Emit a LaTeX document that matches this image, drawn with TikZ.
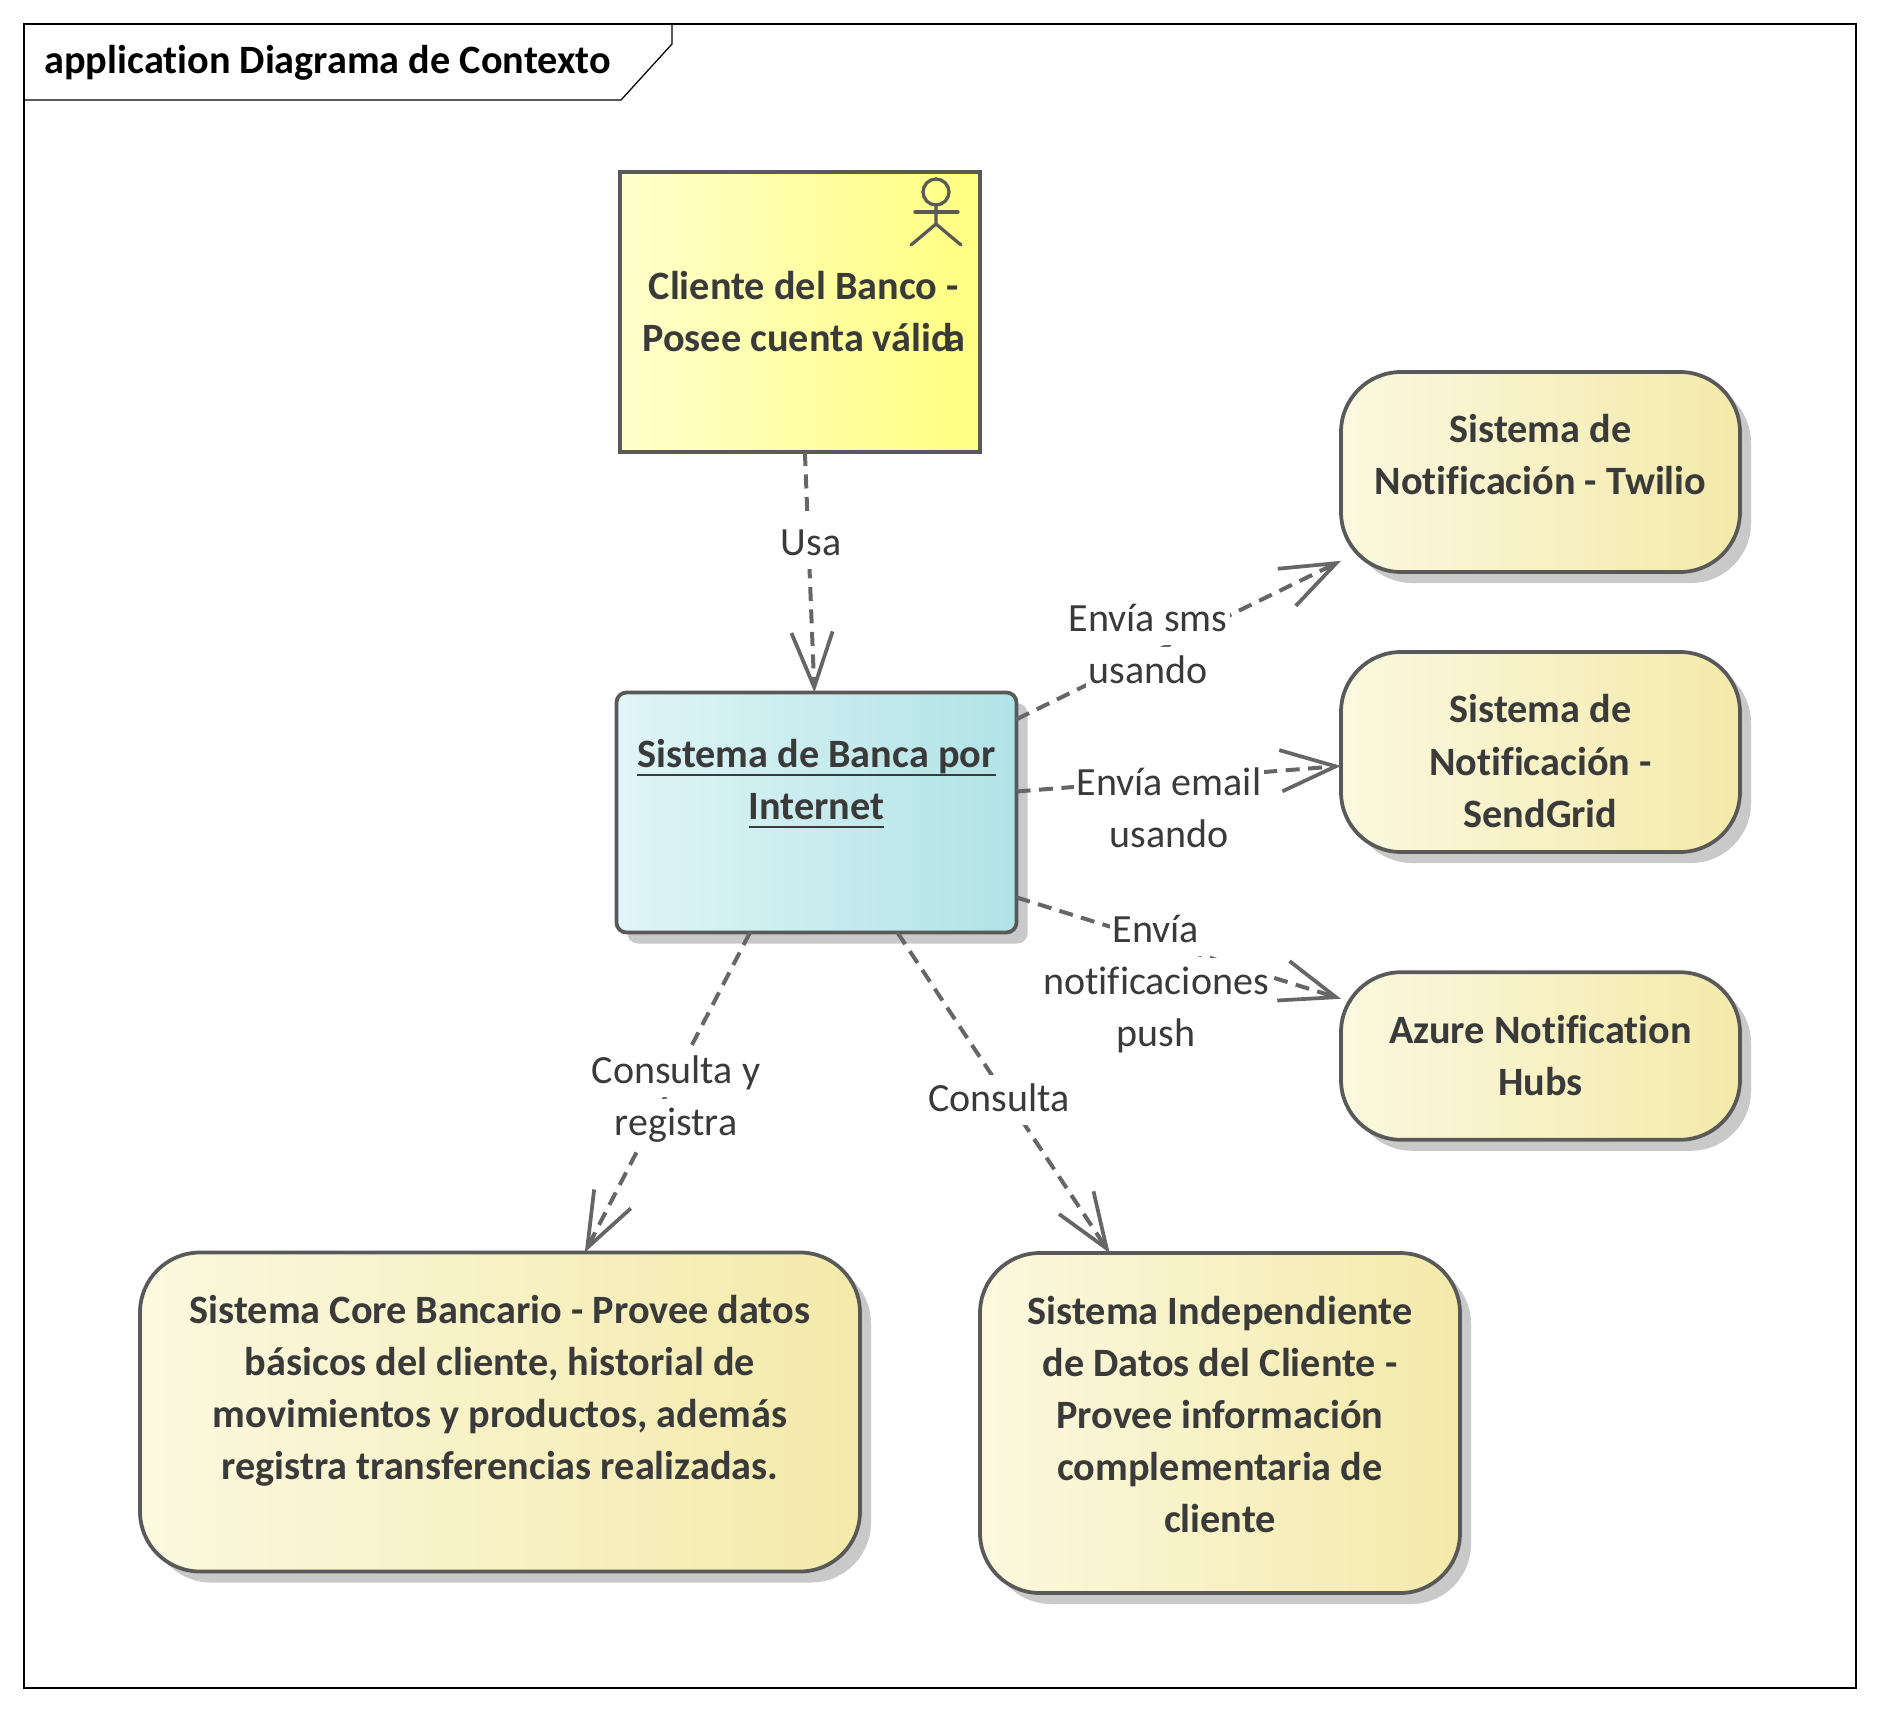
\documentclass[tikz,border=0pt]{standalone}
\usepackage{fontspec}
\setmainfont{Carlito}[Ligatures=NoCommon]
\usetikzlibrary{positioning,calc,shadows,arrows.meta}
\definecolor{linegray}{HTML}{595959}
\definecolor{dashgray}{HTML}{666666}
\definecolor{textgray}{HTML}{3A3A3A}
\definecolor{shadowgray}{HTML}{C9C9C9}
\definecolor{sysleft}{HTML}{FBF8DF}
\definecolor{sysmid}{HTML}{F8F3D2}
\definecolor{sysright}{HTML}{F4EAAA}
\definecolor{blueleft}{HTML}{E0F5F7}
\definecolor{bluemid}{HTML}{DDF3F5}
\definecolor{blueright}{HTML}{B1E3E6}
\definecolor{actorleft}{HTML}{FFFFCC}
\definecolor{actormid}{HTML}{FFFFBF}
\definecolor{actorright}{HTML}{FFFF80}
\newcommand{\ulsys}[1]{\setbox0\hbox{#1}\leavevmode\rlap{\rule[-3.6pt]{\wd0}{1pt}}\box0}
\newcommand{\edgeline}[1]{{\setlength{\fboxsep}{0pt}\colorbox{white}{\kern1pt\rule{0pt}{14.8pt}\smash{#1}\rule[-5.4pt]{0pt}{5.4pt}\kern1pt}}}
\tikzset{
	sysbox/.style={draw=linegray, line width=1.5pt, outer sep=0pt, inner sep=0pt, rounded corners=24pt, left color=sysleft, middle color=sysmid, right color=sysright, general shadow={fill=shadowgray, shadow xshift=4.4pt, shadow yshift=-4.4pt, opacity=1}},
	boxtext/.style={font=\fontsize{16.1}{20.8}\selectfont\bfseries, text=textgray, align=center, inner sep=0pt, anchor=north},
	edgetext/.style={font=\fontsize{16}{20.8}\selectfont, text=textgray, align=center, inner sep=0pt},
	depends/.style={draw=dashgray, line width=1.6pt, dash pattern=on 5.6pt off 3.4pt, -{Straight Barb[length=22pt, width=16.5pt, line width=1.5pt]}}
}
\begin{document}
\begin{tikzpicture}[x=0.4pt, y=-0.4pt]
	\useasboundingbox (0,0) rectangle (1880,1712);
	\draw[line width=0.5pt] (24,24) rectangle (1856,1688);
	\draw[line width=0.5pt] (24,100) -- (621,100) -- (672,44) -- (672,24);
	\node (title) [anchor=base west, inner sep=0pt, font=\fontsize{16.1}{18}\selectfont\bfseries] at (44,74) {application Diagrama de Contexto};

	\node (actor) [draw=linegray, line width=1.5pt, outer sep=0pt, left color=actorleft, middle color=actormid, right color=actorright, minimum width=144pt, minimum height=112pt, inner sep=0pt] at (800,312) {};
	\node (sistema) [draw=linegray, line width=1.5pt, outer sep=0pt, rounded corners=4pt, left color=blueleft, middle color=bluemid, right color=blueright, general shadow={fill=shadowgray, shadow xshift=4.4pt, shadow yshift=-4.4pt, opacity=1}, minimum width=160pt, minimum height=96pt, inner sep=0pt] at (816.5,812.5) {};
	\node (twilio) [sysbox, minimum width=159.6pt, minimum height=80pt] at (1540.5,472) {};
	\node (sendgrid) [sysbox, minimum width=159.6pt, minimum height=80pt] at (1540.5,752) {};
	\node (azure) [sysbox, minimum width=159.6pt, minimum height=67pt] at (1540.5,1056) {};
	\node (core) [sysbox, minimum width=288pt, minimum height=127.6pt] at (500,1412) {};
	\node (datos) [sysbox, minimum width=192pt, minimum height=136pt] at (1220,1423) {};

	\node (actortext) [boxtext, below=39.5pt of actor.north, xshift=1.5pt] {Cliente del Banco -\\Posee cuenta válid\kern-3pt a};
	\node (sistematext) [boxtext, below=18.5pt of sistema.north] {\ulsys{Sistema de Banca por}\\\ulsys{Internet}};
	\node (twiliotext) [boxtext, below=16.9pt of twilio.north] {Sistema de\\Notificación - Twilio};
	\node (sendgridtext) [boxtext, below=16.9pt of sendgrid.north] {Sistema de\\Notificación -\\SendGrid};
	\node (azuretext) [boxtext, below=16.9pt of azure.north] {Azure Notification\\Hubs};
	\node (coretext) [boxtext, below=16.9pt of core.north] {Sistema Core Bancario - Provee datos\\básicos del cliente, historial de\\movimientos y productos, además\\registra transferencias realizadas.};
	\node (datostext) [boxtext, below=16.9pt of datos.north] {Sistema Independiente\\de Datos del Cliente -\\Provee información\\complementaria de\\cliente};

	\coordinate (actorpin) at ($(actor.north east)+(-44,20)$);
	\draw[linegray, line width=1.3pt, line cap=round] (actorpin) circle (13);
	\draw[linegray, line width=1.3pt, line cap=round] ($(actorpin)+(0,13)$) -- ($(actorpin)+(0,32)$) -- ($(actorpin)+(-25,53)$);
	\draw[linegray, line width=1.3pt, line cap=round] ($(actorpin)+(0,32)$) -- ($(actorpin)+(25,53)$);
	\draw[linegray, line width=1.3pt, line cap=round] ($(actorpin)+(-21,20)$) -- ($(actorpin)+(22,20)$);

	\draw[depends] (actor.-88) -- (sistema.91.7);
	\draw[depends] (sistema.25.6) -- (twilio.204.9);
	\draw[depends] (sistema.6.1) -- (sendgrid.184.5);
	\draw[depends] (sistema.-23) -- (azure.164.1);
	\draw[depends] (sistema.-119) -- (core.62.4);
	\draw[depends] (sistema.-56.8) -- (datos.123.8);

	\node (usa) [edgetext] at (811,544) {\edgeline{Usa}};
	\node (envsms) [edgetext] at (1148,646) {\edgeline{Envía sms}\\\edgeline{usando}};
	\node (envemail) [edgetext] at (1169,810) {\edgeline{Envía email}\\\edgeline{usando}};
	\node (envpush) [edgetext] at (1156,983) {\edgeline{Envía}\\\edgeline{notificaciones}\\\edgeline{push}};
	\node (consreg) [edgetext] at (676,1098) {\edgeline{Consulta y}\\\edgeline{registra}};
	\node (cons) [edgetext] at (999,1100) {\edgeline{Consulta}};
\end{tikzpicture}
\end{document}
